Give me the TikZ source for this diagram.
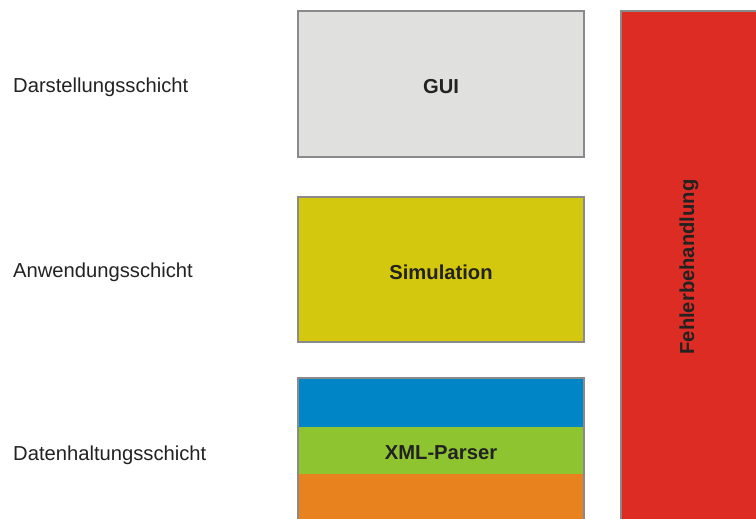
\documentclass[tikz,border=0pt]{standalone}
\usepackage{fontspec}
\setmainfont{Liberation Sans}
\definecolor{guigray}{HTML}{E0E0DF}
\definecolor{simyellow}{HTML}{D3C80D}
\definecolor{dblue}{HTML}{0085C6}
\definecolor{dgreen}{HTML}{8DC42F}
\definecolor{dorange}{HTML}{E8821F}
\definecolor{fred}{HTML}{DC2C24}
\definecolor{edgegray}{HTML}{8A8A8A}
\definecolor{txt}{HTML}{222222}
\begin{document}
\begin{tikzpicture}[x=1pt,y=-1pt,
  layerlabel/.style={anchor=west,inner sep=0pt,font=\fontsize{20.2}{22}\selectfont,text=txt},
  boxtext/.style={inner sep=0pt,font=\fontsize{20.2}{22}\selectfont\bfseries,text=txt},
  blk/.style={draw=edgegray,line width=1.2pt}]
\useasboundingbox (0,0) rectangle (756,519);
\fill[white] (0,0) rectangle (756,519);
% GUI
\filldraw[blk,fill=guigray] (298,11) rectangle (584,157);
\node[boxtext] (gui) at (441,87) {GUI};
% Simulation
\filldraw[blk,fill=simyellow] (298,197) rectangle (584,342);
\node[boxtext] (sim) at (441,272) {Simulation};
% Data layer
\fill[dblue] (298,378) rectangle (584,427);
\fill[dgreen] (298,427) rectangle (584,474);
\fill[dorange] (298,474) rectangle (584,521);
\draw[edgegray,line width=1.2pt] (298,521) -- (298,378) -- (584,378) -- (584,521);
\node[boxtext] (xml) at (441,453) {XML-Parser};
% Fehlerbehandlung
\fill[fred] (621,11) rectangle (760,521);
\draw[edgegray,line width=1.2pt] (621,521) -- (621,11) -- (760,11);
\node[boxtext,rotate=90] (fehler) at (689,267) {Fehlerbehandlung};
% Labels
\node[layerlabel] (l1) at (13,87) {Darstellungsschicht};
\node[layerlabel] (l2) at (13,272) {Anwendungsschicht};
\node[layerlabel] (l3) at (13,455) {Datenhaltungsschicht};
\end{tikzpicture}
\end{document}
